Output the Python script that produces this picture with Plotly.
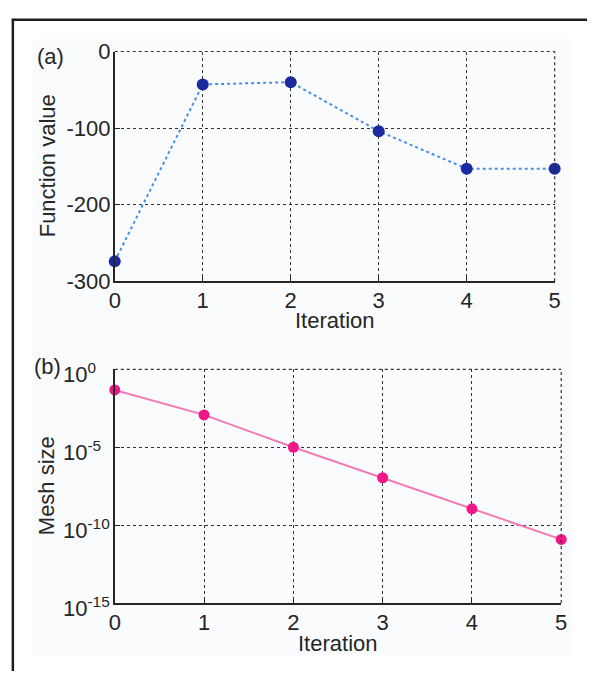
import math
import plotly.graph_objects as go

# Optimisation history
iterations = [0, 1, 2, 3, 4, 5]
function_values = [-274, -43, -40, -104, -153, -153]
mesh_sizes = [4.8e-2, 1.2e-3, 1.0e-5, 1.1e-7, 1.1e-9, 1.2e-11]

x_ticks = [0, 1, 2, 3, 4, 5]
fv_ticks = [0, -100, -200, -300]
fv_tick_text = ["0", "-100", "-200", "-300"]
mesh_tick_vals = [1, 1e-5, 1e-10, 1e-15]
mesh_tick_exps = ["0", "-5", "-10", "-15"]

W, H = 593, 684
FONT = "Liberation Sans, Arial, sans-serif"
INK = "#262626"
GRID = "#333333"
PANEL_BG = "#fafbfd"
TICK_SIZE = 22


def px(x):
    return x / W


def py(y):
    return 1 - y / H


fig = go.Figure()

fig.add_trace(go.Scatter(
    x=iterations, y=function_values, mode="lines+markers",
    line=dict(color="#4a8fe6", width=2, dash="dot"),
    marker=dict(color="#1b2a9e", size=12, line=dict(width=0)),
    xaxis="x", yaxis="y", showlegend=False, cliponaxis=False,
))

fig.add_trace(go.Scatter(
    x=iterations, y=mesh_sizes, mode="lines+markers",
    line=dict(color="#f27ab6", width=2),
    marker=dict(color="#ee1888", size=11, line=dict(width=0)),
    xaxis="x2", yaxis="y2", showlegend=False, cliponaxis=False,
))

axis_common = dict(
    showline=True, linecolor=INK, linewidth=1.5,
    showgrid=True, gridcolor=GRID, gridwidth=1.2, griddash="dot",
    ticks="inside", ticklen=5, tickcolor=INK, tickwidth=1,
    tickfont=dict(family=FONT, size=TICK_SIZE, color=INK),
    zeroline=False, mirror=False,
)

fig.update_layout(
    width=W, height=H,
    margin=dict(l=0, r=0, t=0, b=0),
    paper_bgcolor="white",
    plot_bgcolor=PANEL_BG,
    xaxis=dict(axis_common, domain=[px(111), px(560)], range=[0, 5],
               tickvals=x_ticks, anchor="y", ticklabelstandoff=-1),
    yaxis=dict(axis_common, domain=[py(279.5), py(41)], range=[-300, 0],
               tickvals=fv_ticks, ticktext=fv_tick_text, anchor="x",
               ticklabelstandoff=-2),
    xaxis2=dict(axis_common, domain=[px(111), px(566.7)], range=[0, 5],
                tickvals=x_ticks, anchor="y2", ticklabelstandoff=-1),
    yaxis2=dict(axis_common, type="log", domain=[py(613.3), py(371)],
                range=[-15, 0], tickvals=mesh_tick_vals,
                showticklabels=False, anchor="x2"),
)

# Power-of-ten labels for the log axis, with the mantissas aligned
for val, exp in zip(mesh_tick_vals, mesh_tick_exps):
    fig.add_annotation(
        xref="paper", yref="y2", x=px(56), y=math.log10(val),
        text=f"10<sup>{exp}</sup>", showarrow=False,
        xanchor="left", yanchor="middle", yshift=-4,
        font=dict(family=FONT, size=TICK_SIZE, color=INK),
    )

# Frame edges drawn dotted like the grid (top and right of each panel)
for xr, yr in (("x", "y"), ("x2", "y2")):
    fig.add_shape(type="line", xref=f"{xr} domain", yref=f"{yr} domain",
                  x0=0, x1=1, y0=1, y1=1,
                  line=dict(color=GRID, width=1.2, dash="dot"))
    fig.add_shape(type="line", xref=f"{xr} domain", yref=f"{yr} domain",
                  x0=1, x1=1, y0=0, y1=1,
                  line=dict(color=GRID, width=1.2, dash="dot"))

# Light figure area behind the panels
fig.add_shape(type="rect", xref="paper", yref="paper", layer="below",
              x0=px(27), x1=px(577), y0=py(668), y1=py(28),
              fillcolor=PANEL_BG, line=dict(width=0))

# Page border (left and top rules)
fig.add_shape(type="line", xref="paper", yref="paper",
              x0=px(7), x1=px(7), y0=0, y1=py(7),
              line=dict(color="#1e1e1e", width=2.5))
fig.add_shape(type="line", xref="paper", yref="paper",
              x0=px(6), x1=1, y0=py(8), y1=py(8),
              line=dict(color="#1e1e1e", width=2.5))

label_font = dict(family=FONT, size=22, color=INK)
annotations = [
    dict(text="(a)", x=px(45), y=py(46)),
    dict(text="(b)", x=px(42), y=py(368)),
    dict(text="Function value", x=px(42), y=py(160), textangle=-90),
    dict(text="Mesh size", x=px(41), y=py(492), textangle=-90),
    dict(text="Iteration", x=px(335.5), y=py(320)),
    dict(text="Iteration", x=px(338.8), y=py(655)),
]
for a in annotations:
    fig.add_annotation(xref="paper", yref="paper", showarrow=False,
                       xanchor="center", yanchor="middle",
                       font=label_font, **a)

# Let the figure fill the page without the default body margin
fig.write_html(
    "out.html",
    post_script="document.body.style.margin='0';"
                "document.body.style.overflow='hidden';",
)
